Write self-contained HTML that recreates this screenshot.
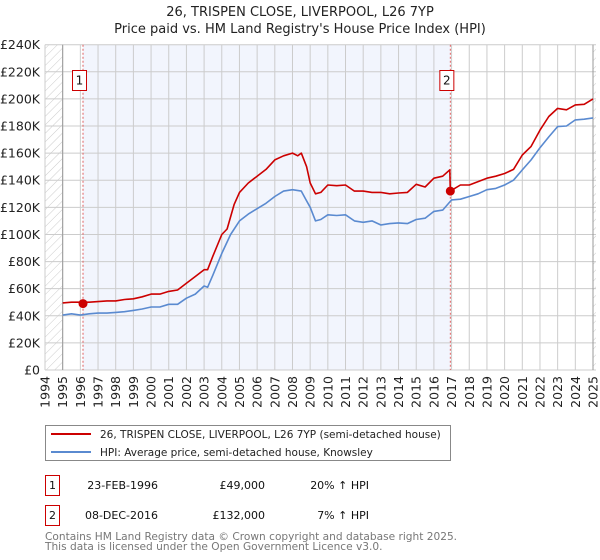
<!DOCTYPE html>
<html><head><meta charset="utf-8"><style>
body{margin:0;background:#fff;font-family:"DejaVu Sans","Liberation Sans",sans-serif;}
svg{display:block}
</style></head><body>
<svg width="600" height="560" xmlns="http://www.w3.org/2000/svg" font-family="DejaVu Sans, Liberation Sans, sans-serif">
<defs><pattern id="hatch" patternUnits="userSpaceOnUse" width="6" height="6" patternTransform="rotate(45)"><line x1="0" y1="0" x2="0" y2="6" stroke="#ccc" stroke-width="1"/></pattern></defs>
<text x="300" y="16" text-anchor="middle" font-size="13" fill="#222">26, TRISPEN CLOSE, LIVERPOOL, L26 7YP</text>
<text x="300" y="33" text-anchor="middle" font-size="13" fill="#222">Price paid vs. HM Land Registry's House Price Index (HPI)</text>
<g id="plot"></g>
<g>
<rect x="45.5" y="425.5" width="405" height="35" fill="#fff" stroke="#888"/>
<line x1="51" y1="434" x2="91" y2="434" stroke="#cc0000" stroke-width="2"/>
<text x="100" y="438" font-size="10.5" fill="#222">26, TRISPEN CLOSE, LIVERPOOL, L26 7YP (semi-detached house)</text>
<line x1="51" y1="452" x2="91" y2="452" stroke="#5a8ad0" stroke-width="2"/>
<text x="100" y="456" font-size="10.5" fill="#222">HPI: Average price, semi-detached house, Knowsley</text>
</g>
<g font-size="11" fill="#111">
<rect x="45.5" y="475.5" width="14" height="20" fill="#fff" stroke="#cc0000"/>
<text x="52.5" y="489" text-anchor="middle">1</text>
<text x="158" y="489" text-anchor="end">23-FEB-1996</text>
<text x="265" y="489" text-anchor="end">£49,000</text>
<text x="369" y="489" text-anchor="end">20% ↑ HPI</text>
<rect x="45.5" y="505.5" width="14" height="20" fill="#fff" stroke="#cc0000"/>
<text x="52.5" y="519" text-anchor="middle">2</text>
<text x="158" y="519" text-anchor="end">08-DEC-2016</text>
<text x="265" y="519" text-anchor="end">£132,000</text>
<text x="369" y="519" text-anchor="end">7% ↑ HPI</text>
</g>
<text x="45" y="540" font-size="10.6" fill="#777">Contains HM Land Registry data © Crown copyright and database right 2025.</text>
<text x="45" y="550" font-size="10.6" fill="#777">This data is licensed under the Open Government Licence v3.0.</text>
</svg>
<script>
const hpiYears=[1995,1995.5,1996,1996.5,1997,1997.5,1998,1998.5,1999,1999.5,2000,2000.5,2001,2001.5,2002,2002.5,2003,2003.2,2003.5,2004,2004.5,2005,2005.5,2006,2006.5,2007,2007.5,2008,2008.5,2008.75,2009,2009.3,2009.6,2010,2010.5,2011,2011.5,2012,2012.5,2013,2013.5,2014,2014.5,2015,2015.5,2016,2016.5,2017,2017.5,2018,2018.5,2019,2019.5,2020,2020.5,2021,2021.5,2022,2022.5,2023,2023.5,2024,2024.5,2025];
const hpiValues=[40.5,41.5,40.5,41.5,42,42,42.5,43,44,45,46.5,46.5,48.5,48.5,53,56,62,61,70,86,100,110,115,119,123,128,132,133,132,126,120,110,111,114.5,114,114.5,110,109,110,107,108,108.5,108,111,112,117,118,125.5,126,128,130,133,134,136.5,140,147.6,155,164,172,179.6,180,184.5,185,186];
const priceYears=[1995,1995.5,1996,1996.5,1997,1997.5,1998,1998.5,1999,1999.5,2000,2000.5,2001,2001.5,2002,2002.5,2003,2003.2,2003.5,2004,2004.3,2004.7,2005,2005.5,2006,2006.5,2007,2007.5,2008,2008.3,2008.5,2008.8,2009,2009.3,2009.6,2010,2010.5,2011,2011.5,2012,2012.5,2013,2013.5,2014,2014.5,2015,2015.5,2016,2016.5,2016.9,2016.93,2017.5,2018,2018.5,2019,2019.5,2020,2020.5,2021,2021.5,2022,2022.5,2023,2023.5,2024,2024.5,2025];
const priceValues=[49.5,50,50,50,50.5,51,51,52,52.5,54,56,56,58,59,64,69,74,74,84,100,104,122,131,138,143,148,155,158,160,158,160,150,138,130,131,136.5,136,136.5,132,132,131,131,130,130.6,131,137,135,141.5,143,147.6,132,136.5,136.5,139,141.5,143,145,148,158.6,165,177,187,193,192,195.6,196,200];
const saleYears=[1996.15,2016.93];
const saleValues=[49,132];
const saleLabels=["1","2"];
const yTicks=[0,20,40,60,80,100,120,140,160,180,200,220,240];
const xTicks=[1994,1995,1996,1997,1998,1999,2000,2001,2002,2003,2004,2005,2006,2007,2008,2009,2010,2011,2012,2013,2014,2015,2016,2017,2018,2019,2020,2021,2022,2023,2024,2025];

const X0=45,X1=593,Y0=370,Y1=44.7;
const xs=y=>X0+(y-1994)/31*(X1-X0);
const ys=v=>Y0-v/240*(Y0-Y1);
const NS="http://www.w3.org/2000/svg";
const g=document.getElementById('plot');
function mk(t,a){const e=document.createElementNS(NS,t);for(const k in a)e.setAttribute(k,a[k]);g.appendChild(e);return e;}
let e;
e=mk('rect',{x:xs(1994),y:Y1,width:xs(1995)-xs(1994),height:Y0-Y1,fill:'url(#hatch)'});


e=mk('rect',{x:xs(2025),y:Y1,width:596-xs(2025),height:Y0-Y1,fill:'url(#hatch)'});


e=mk('rect',{x:xs(saleYears[0]),y:Y1,width:xs(saleYears[1])-xs(saleYears[0]),height:Y0-Y1,fill:'#f2f5fd'});


yTicks.forEach(t=>{
 e=mk('line',{x1:X0,x2:596,y1:ys(t),y2:ys(t),stroke:'#ccc','stroke-width':1});
 
 
 e=mk('text',{x:40,y:ys(t)+4.5,'text-anchor':'end','font-size':12.5,fill:'#222'});
 e.textContent=t===0?'£0':'£'+t+'K';
 
 
});
xTicks.forEach(t=>{
 e=mk('line',{x1:xs(t),x2:xs(t),y1:Y1,y2:Y0,stroke:'#ccc','stroke-width':1});
 
 
 e=mk('text',{x:0,y:0,'text-anchor':'end','font-size':12.5,fill:'#222',transform:`translate(${xs(t)+4.5},376) rotate(-90)`});
 e.textContent=t;
 
 
});
e=mk('line',{x1:xs(1995),x2:xs(1995),y1:Y1,y2:Y0,stroke:'#999'});


e=mk('line',{x1:xs(2025),x2:xs(2025),y1:Y1,y2:Y0,stroke:'#999'});


saleYears.forEach((s,i)=>{
 e=mk('line',{x1:xs(s),x2:xs(s),y1:Y1,y2:Y0,stroke:'#e06060','stroke-dasharray':'2,2'});
 
 
});
function path(xa,va,col,name){
 const d=xa.map((x,i)=>(i?'L':'M')+xs(x).toFixed(1)+','+ys(va[i]).toFixed(1)).join('');
 e=mk('path',{d:d,fill:'none',stroke:col,'stroke-width':1.6,'stroke-linejoin':'round'});
 
 
}
path(hpiYears,hpiValues,'#5a8ad0','hpi-line');
path(priceYears,priceValues,'#cc0000','price-paid-line');
saleYears.forEach((s,i)=>{
 e=mk('circle',{cx:xs(s),cy:ys(saleValues[i]),r:4.5,fill:'#cc0000'});
 
 
 e=mk('rect',{x:xs(s)-10.5,y:70.5,width:14,height:20,fill:'#fff',stroke:'#cc0000'});
 
 
 e=mk('text',{x:xs(s)-3.5,y:84.5,'text-anchor':'middle','font-size':12,fill:'#111'});
 e.textContent=saleLabels[i];
 
 
});
</script>
</body></html>
